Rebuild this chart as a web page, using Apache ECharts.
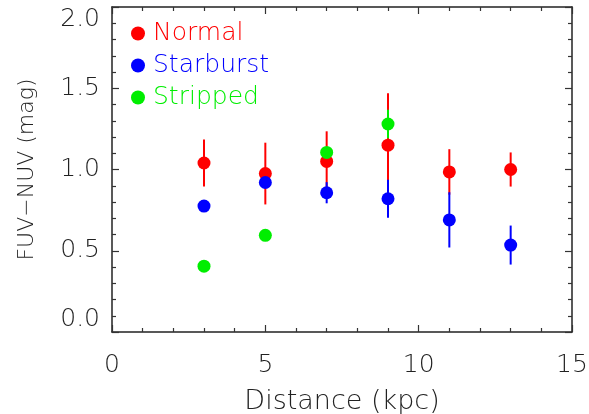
<!DOCTYPE html>
<html><head><meta charset="utf-8">
<script src="https://cdn.jsdelivr.net/npm/echarts@6/dist/echarts.min.js"></script>
<style>html,body{margin:0;padding:0;background:#fff}#c{width:589px;height:414px}</style>
</head><body><div id="c"></div>
<script>
var distance = [3, 5, 7, 9, 11, 13];
var normalVal = [1.04, 0.975, 1.05, 1.15, 0.985, 1.0];
var normalErr = [0.145, 0.19, 0.185, 0.32, 0.14, 0.105];
var starDist = [3, 5, 7, 9, 11, 13];
var starVal = [0.775, 0.92, 0.857, 0.82, 0.69, 0.535];
var starErr = [0.0, 0.0, 0.065, 0.117, 0.17, 0.12];
var stripDist = [3, 5, 7, 9];
var stripVal = [0.405, 0.595, 1.105, 1.28];
var stripErr = [0.0, 0.0, 0.0, 0.088];
var xTicks = [0, 5, 10, 15];
var yTicks = [0.0, 0.5, 1.0, 1.5, 2.0];

var FONT = 'DejaVu Sans';
function pts(xs, vs) { return xs.map(function (x, i) { return [x, vs[i]]; }); }
function errs(xs, vs, es) { return xs.map(function (x, i) { return [x, vs[i] - es[i], vs[i] + es[i]]; }); }
function errSeries(name, color, data, z) {
  return {
    type: 'custom', name: name + 'err', z: z, silent: true,
    renderItem: function (params, api) {
      var lo = api.coord([api.value(0), api.value(1)]);
      var hi = api.coord([api.value(0), api.value(2)]);
      return { type: 'line', shape: { x1: lo[0], y1: lo[1], x2: hi[0], y2: hi[1] },
        style: { stroke: color, lineWidth: 2 } };
    },
    encode: { x: 0, y: [1, 2] },
    data: data
  };
}
function axisCommon() {
  return {
    axisLine: { show: true, onZero: false, lineStyle: { color: '#222', width: 1.5 } },
    axisTick: { show: true, inside: true, length: 7, lineStyle: { color: '#333', width: 1.2 } },
    minorTick: { show: true, splitNumber: 5, length: 4, lineStyle: { color: '#333', width: 1.2 } },
    splitLine: { show: false }
  };
}
var chart = echarts.init(document.getElementById('c'));
chart.setOption({
  animation: false,
  backgroundColor: '#fff',
  grid: { left: 112, right: 17, top: 7, bottom: 82, outerBoundsMode: 'none', containLabel: false },
  legend: {
    orient: 'vertical', left: 126, top: 16, icon: 'circle',
    itemWidth: 14, itemHeight: 14, itemGap: 7,
    textStyle: { fontFamily: FONT, fontSize: 25, fontWeight: 200, padding: [0, 0, 0, 3] },
    data: [
      { name: 'Normal', textStyle: { color: '#ff0000' } },
      { name: 'Starburst', textStyle: { color: '#0000ff' } },
      { name: 'Stripped', textStyle: { color: '#00ee00' } }
    ]
  },
  xAxis: [
    Object.assign({ type: 'value', min: 0, max: 15, interval: 5, position: 'bottom',
      name: 'Distance (kpc)', nameLocation: 'middle', nameGap: 56,
      nameTextStyle: { fontFamily: FONT, fontSize: 27, fontWeight: 200, color: '#222' },
      axisLabel: { margin: 21, fontFamily: FONT, fontSize: 25, fontWeight: 200, color: '#222',
        formatter: function (v) { return xTicks.indexOf(v) >= 0 ? String(v) : ''; } } }, axisCommon()),
    Object.assign({ type: 'value', min: 0, max: 15, interval: 5, position: 'top',
      axisLabel: { show: false } }, axisCommon())
  ],
  yAxis: [
    Object.assign({ type: 'value', min: 0, max: 2, interval: 0.5, position: 'left',
      name: 'FUV\u2212NUV (mag)', nameLocation: 'middle', nameGap: 74,
      nameTextStyle: { fontFamily: FONT, fontSize: 22, fontWeight: 200, color: '#222' },
      axisLabel: { margin: 12, fontFamily: FONT, fontSize: 25, fontWeight: 200, color: '#222',
        verticalAlignMinLabel: 'bottom', verticalAlignMaxLabel: 'top',
        formatter: function (v) { return v.toFixed(1); } } }, axisCommon()),
    Object.assign({ type: 'value', min: 0, max: 2, interval: 0.5, position: 'right',
      axisLabel: { show: false } }, axisCommon())
  ],
  series: [
    errSeries('Normal', '#ff0000', errs(distance, normalVal, normalErr), 2),
    { type: 'scatter', name: 'Normal', z: 3, symbol: 'circle', symbolSize: 13,
      itemStyle: { color: '#ff0000', opacity: 1 }, data: pts(distance, normalVal) },
    errSeries('Starburst', '#0000ff', errs(starDist, starVal, starErr), 4),
    { type: 'scatter', name: 'Starburst', z: 5, symbol: 'circle', symbolSize: 13,
      itemStyle: { color: '#0000ff', opacity: 1 }, data: pts(starDist, starVal) },
    errSeries('Stripped', '#00ee00', errs(stripDist, stripVal, stripErr), 6),
    { type: 'scatter', name: 'Stripped', z: 7, symbol: 'circle', symbolSize: 13,
      itemStyle: { color: '#00ee00', opacity: 1 }, data: pts(stripDist, stripVal) }
  ]
});
</script></body></html>
